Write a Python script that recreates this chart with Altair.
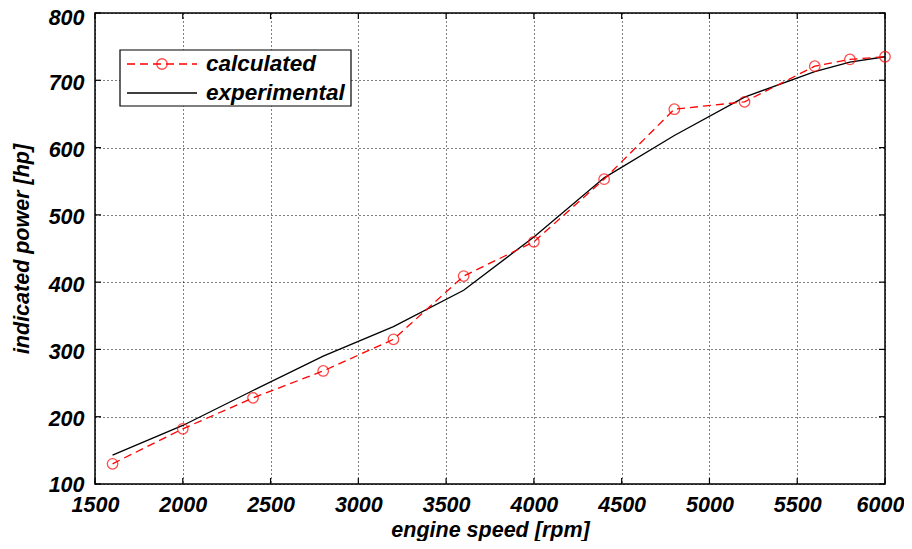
import altair as alt
import pandas as pd

speed = [1600, 2000, 2400, 2800, 3200, 3600, 4000, 4400, 4800, 5200, 5600, 5800, 6000]
calculated = [130, 182, 228, 268, 315, 409, 460, 553, 657, 668, 721, 731, 735]
experimental = [143, 187, 239, 290, 334, 388, 467, 555, 618, 675, 713, 727, 735]
x_ticks = [1500, 2000, 2500, 3000, 3500, 4000, 4500, 5000, 5500, 6000]
y_ticks = [100, 200, 300, 400, 500, 600, 700, 800]
series_names = ["calculated", "experimental"]

W, H = 790, 471
FONT = "Liberation Sans"
LFS = 21.5
TFS = 21.5

df = pd.DataFrame({"speed": speed, "calculated": calculated, "experimental": experimental})
xt = pd.DataFrame({"v": x_ticks})
yt = pd.DataFrame({"v": y_ticks})
one = pd.DataFrame({"a": [0]})

xscale = alt.Scale(domain=[1500, 6000], nice=False, zero=False)
yscale = alt.Scale(domain=[100, 800], nice=False, zero=False)

xaxis = alt.Axis(values=x_ticks, title="engine speed [rpm]", grid=True, ticks=False,
                 domain=False, labelPadding=10, titlePadding=4, format="d",
                 labelFlush=False, labelOverlap=False,
                 labelOffset={"condition": {"test": "datum.value == 6000", "value": -5}, "value": 0})
yaxis = alt.Axis(values=y_ticks, title="indicated power [hp]", grid=True, ticks=False,
                 domain=False, labelPadding=11, titlePadding=15, format="d",
                 labelFlush=False, labelOverlap=False,
                 labelOffset={"condition": [{"test": "datum.value == 100", "value": 1},
                                            {"test": "datum.value == 800", "value": 5}],
                              "value": 3})

base = alt.Chart(df)

exp_line = base.mark_line(color="black", strokeWidth=1.3).encode(
    x=alt.X("speed:Q", scale=xscale, axis=xaxis),
    y=alt.Y("experimental:Q", scale=yscale, axis=yaxis),
)
calc_line = base.mark_line(color="red", strokeWidth=1.3, strokeDash=[8, 5]).encode(
    x=alt.X("speed:Q", scale=xscale),
    y=alt.Y("calculated:Q", scale=yscale),
)
calc_pts = base.mark_point(shape="circle", size=110, color="red", filled=False, strokeWidth=1.3).encode(
    x=alt.X("speed:Q", scale=xscale),
    y=alt.Y("calculated:Q", scale=yscale),
)

# inward ticks on all four sides
tick_b = alt.Chart(xt).mark_rule(color="black", strokeWidth=1.2).encode(
    x=alt.X("v:Q", scale=xscale), y=alt.value(H), y2=alt.value(H - 6))
tick_t = alt.Chart(xt).mark_rule(color="black", strokeWidth=1.2).encode(
    x=alt.X("v:Q", scale=xscale), y=alt.value(0), y2=alt.value(6))
tick_l = alt.Chart(yt).mark_rule(color="black", strokeWidth=1.2).encode(
    y=alt.Y("v:Q", scale=yscale), x=alt.value(0), x2=alt.value(6))
tick_r = alt.Chart(yt).mark_rule(color="black", strokeWidth=1.2).encode(
    y=alt.Y("v:Q", scale=yscale), x=alt.value(W), x2=alt.value(W - 6))

# legend
lx0, lx1, ly0, ly1 = 25, 256, 37, 93
r1, r2 = 51, 80
leg_box = alt.Chart(one).mark_rect(fill="white", stroke="black", strokeWidth=1.2).encode(
    x=alt.value(lx0), x2=alt.value(lx1), y=alt.value(ly0), y2=alt.value(ly1))
leg_l1 = alt.Chart(one).mark_rule(color="red", strokeWidth=1.3, strokeDash=[8, 5]).encode(
    x=alt.value(32), x2=alt.value(102), y=alt.value(r1))
leg_p1 = alt.Chart(one).mark_point(shape="circle", size=110, color="red", filled=False, strokeWidth=1.3).encode(
    x=alt.value(67), y=alt.value(r1))
leg_l2 = alt.Chart(one).mark_rule(color="black", strokeWidth=1.3).encode(
    x=alt.value(32), x2=alt.value(102), y=alt.value(r2))
leg_t1 = alt.Chart(one).mark_text(align="left", baseline="middle", font=FONT, fontSize=22.5,
                                  fontStyle="italic", fontWeight="bold", color="black",
                                  text=series_names[0]).encode(x=alt.value(111), y=alt.value(r1))
leg_t2 = alt.Chart(one).mark_text(align="left", baseline="middle", font=FONT, fontSize=22.5,
                                  fontStyle="italic", fontWeight="bold", color="black",
                                  text=series_names[1]).encode(x=alt.value(111), y=alt.value(r2))

chart = alt.layer(
    exp_line, calc_line, calc_pts, tick_b, tick_t, tick_l, tick_r,
    leg_box, leg_l1, leg_p1, leg_l2, leg_t1, leg_t2,
).properties(
    width=W, height=H,
    autosize=alt.AutoSizeParams(type="none"),
    padding={"left": 87, "top": 5, "right": 19, "bottom": 57},
    background="white",
).configure_view(
    stroke="black", strokeWidth=1.5
).configure_axis(
    labelFont=FONT, labelFontSize=LFS, labelFontStyle="italic", labelFontWeight="bold",
    labelColor="black",
    titleFont=FONT, titleFontSize=TFS, titleFontStyle="italic", titleFontWeight="bold",
    titleColor="black",
    gridColor="black", gridDash=[1, 3], gridOpacity=1, gridWidth=1,
)

chart.save("out.html", embed_options={"renderer": "svg", "actions": False})
